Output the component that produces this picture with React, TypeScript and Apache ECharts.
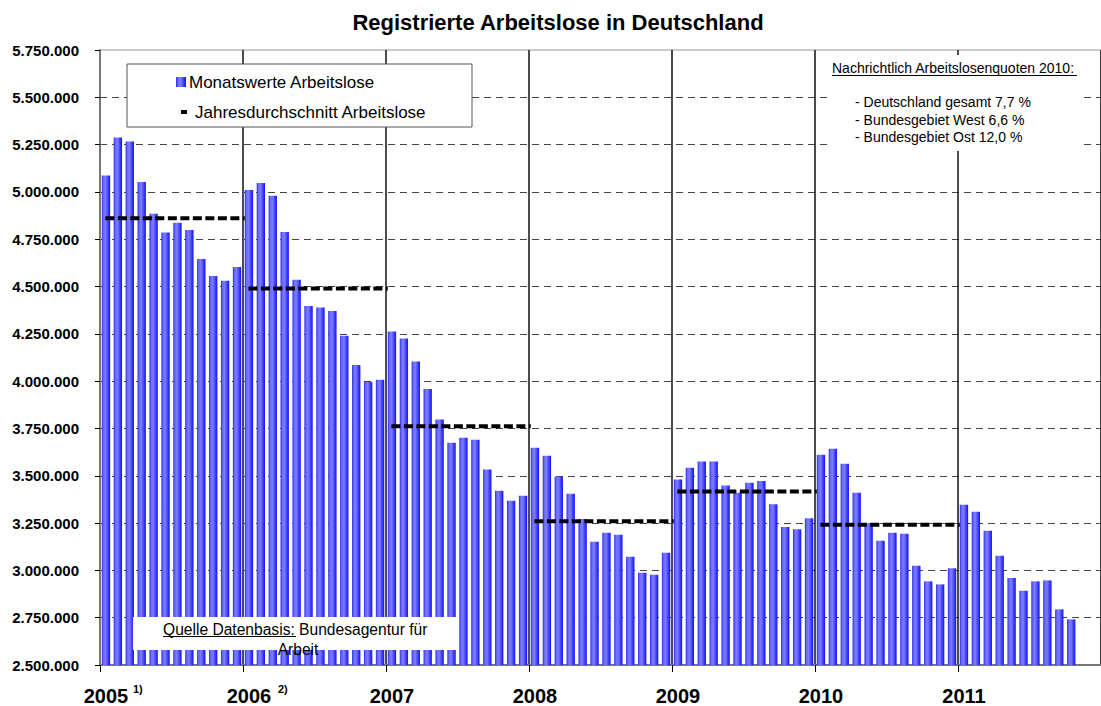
import React, { useEffect, useRef } from 'react';
import * as echarts from 'echarts';

const YEARS = ['2005', '2006', '2007', '2008', '2009', '2010', '2011'];
const MONTHS = ['Jan', 'Feb', 'Mär', 'Apr', 'Mai', 'Jun', 'Jul', 'Aug', 'Sep', 'Okt', 'Nov', 'Dez'];
const CATEGORIES = YEARS.flatMap((y) => MONTHS.map((m) => `${m} ${y}`));

const V2005 = [5087000, 5288000, 5266000, 5052000, 4884000, 4785000, 4837000, 4799000, 4646000, 4556000, 4531000, 4603000];
const V2006 = [5010000, 5047000, 4980000, 4788000, 4536000, 4397000, 4389000, 4371000, 4240000, 4086000, 3996000, 4007000];
const V2007 = [4262000, 4225000, 4104000, 3959000, 3798000, 3674000, 3701000, 3690000, 3533000, 3421000, 3368000, 3395000];
const V2008 = [3648000, 3606000, 3495000, 3405000, 3271000, 3151000, 3199000, 3188000, 3072000, 2988000, 2977000, 3093000];
const V2009 = [3480000, 3543000, 3575000, 3575000, 3448000, 3410000, 3463000, 3473000, 3350000, 3229000, 3218000, 3276000];
const V2010 = [3611000, 3643000, 3564000, 3410000, 3246000, 3157000, 3199000, 3194000, 3025000, 2942000, 2926000, 3011000];
const V2011 = [3347000, 3310000, 3210000, 3077000, 2960000, 2892000, 2942000, 2947000, 2794000, 2741000];
const MONTHLY = [...V2005, ...V2006, ...V2007, ...V2008, ...V2009, ...V2010, ...V2011];

// Jahresdurchschnitt 2005 .. 2010
const ANNUAL_AVG = [4861000, 4490000, 3762000, 3260000, 3417000, 3241000];

const Y_MIN = 2500000;
const Y_MAX = 5750000;
const Y_STEP = 250000;

const TITLE = 'Registrierte Arbeitslose in Deutschland';
const LEGEND_BARS = 'Monatswerte Arbeitslose';
const LEGEND_AVG = 'Jahresdurchschnitt Arbeitslose';
const NOTE_HEAD = 'Nachrichtlich Arbeitslosenquoten 2010:';
const NOTE_LINES = ['- Deutschland gesamt 7,7 %', '- Bundesgebiet West 6,6 %', '- Bundesgebiet Ost 12,0 %'];
const FONT = 'Arial, "Liberation Sans", sans-serif';

function fmt(v: number): string {
  return String(Math.round(v)).replace(/\B(?=(\d{3})+(?!\d))/g, '.');
}

const barGradient = () =>
  new echarts.graphic.LinearGradient(0, 0, 1, 0, [
    { offset: 0, color: '#2424ff' },
    { offset: 0.2, color: '#6a6aff' },
    { offset: 0.45, color: '#7c7cff' },
    { offset: 1, color: '#1010f5' },
  ]);

export default function App() {
  const ref = useRef<HTMLDivElement>(null);

  useEffect(() => {
    if (!ref.current) return;
    const chart = echarts.init(ref.current, undefined, { renderer: 'svg' });

    const avgData: any[] = [];
    ANNUAL_AVG.forEach((v, i) => {
      avgData.push([i * 12 + 0.45, v]);
      avgData.push([i * 12 + 12.15, v]);
      avgData.push([i * 12 + 12.3, '-']);
    });

    const isYearStart = (i: number) => i % 12 === 0;

    chart.setOption({
      animation: false,
      backgroundColor: '#fff',
      textStyle: { fontFamily: FONT },
      title: {
        text: TITLE,
        left: 553,
        top: 6,
        textAlign: 'center',
        textStyle: { fontSize: 22, fontWeight: 'bold', color: '#000', fontFamily: FONT },
      },
      grid: {
        left: 100,
        top: 50,
        width: 1003,
        height: 616,
        show: true,
        borderColor: '#999',
        borderWidth: 1,
        backgroundColor: 'transparent',
      },
      xAxis: [
        {
          type: 'category',
          data: CATEGORIES,
          boundaryGap: true,
          axisLine: { show: true, lineStyle: { color: '#777', width: 2 } },
          axisTick: {
            show: true,
            interval: (i: number) => isYearStart(i),
            length: 7,
            lineStyle: { color: '#000', width: 1 },
          },
          axisLabel: {
            interval: (i: number) => isYearStart(i),
            formatter: (v: string) => v.split(' ')[1],
            fontSize: 20,
            fontWeight: 'bold',
            color: '#000',
            margin: 21,
            fontFamily: FONT,
          },
          splitLine: {
            show: true,
            interval: (i: number) => isYearStart(i) && i > 0,
            lineStyle: { color: '#111', width: 1.5, type: 'solid' },
          },
        },
        {
          type: 'value',
          min: 0,
          max: 84,
          show: false,
          splitLine: { show: false },
        },
      ],
      yAxis: {
        type: 'value',
        min: Y_MIN,
        max: Y_MAX,
        interval: Y_STEP,
        axisLine: { show: true, lineStyle: { color: '#777', width: 2 } },
        axisTick: { show: true, length: 5, lineStyle: { color: '#000' } },
        axisLabel: {
          formatter: (v: number) => fmt(v),
          fontSize: 15,
          fontWeight: 'bold',
          color: '#000',
          margin: 21,
          fontFamily: FONT,
        },
        splitLine: {
          show: true,
          showMinLine: false,
          showMaxLine: false,
          lineStyle: { type: [7, 5], color: '#444', width: 1 },
        },
      },
      series: [
        {
          name: LEGEND_BARS,
          type: 'bar',
          xAxisIndex: 0,
          yAxisIndex: 0,
          data: MONTHLY,
          barWidth: '70%',
          itemStyle: { color: barGradient() },
          z: 2,
        },
        {
          name: LEGEND_AVG,
          type: 'line',
          xAxisIndex: 1,
          yAxisIndex: 0,
          data: avgData,
          symbol: 'none',
          connectNulls: false,
          lineStyle: { color: '#000', width: 4, type: [9, 3.5] },
          z: 5,
        },
      ],
      graphic: [
        // legend box
        { type: 'rect', z: 100, shape: { x: 127, y: 64, width: 345, height: 63 }, style: { fill: '#fff', stroke: '#555', lineWidth: 1 } },
        { type: 'rect', z: 101, shape: { x: 176, y: 77, width: 10, height: 10 }, style: { fill: barGradient() } },
        { type: 'text', z: 101, x: 189, y: 82, style: { text: LEGEND_BARS, font: `17px ${FONT}`, fill: '#000', verticalAlign: 'middle', align: 'left' } },
        { type: 'rect', z: 101, shape: { x: 181, y: 110, width: 6, height: 4 }, style: { fill: '#000' } },
        { type: 'text', z: 101, x: 195, y: 112, style: { text: LEGEND_AVG, font: `17px ${FONT}`, fill: '#000', verticalAlign: 'middle', align: 'left' } },
        // note box
        { type: 'rect', z: 100, shape: { x: 830, y: 55, width: 253, height: 96 }, style: { fill: '#fff' } },
        { type: 'text', z: 101, x: 832, y: 67.5, style: { text: NOTE_HEAD, font: `14px ${FONT}`, fill: '#000', verticalAlign: 'middle', align: 'left' } },
        { type: 'line', z: 101, shape: { x1: 832, y1: 75.5, x2: 1077, y2: 75.5 }, style: { stroke: '#000', lineWidth: 1 } },
        ...NOTE_LINES.map((t, i) => ({
          type: 'text',
          z: 101,
          x: 855,
          y: 102 + i * 17.5,
          style: { text: t, font: `14px ${FONT}`, fill: '#000', verticalAlign: 'middle', align: 'left' },
        })),
        // source box
        { type: 'rect', z: 100, shape: { x: 133, y: 617, width: 325, height: 33 }, style: { fill: '#fff' } },
        { type: 'text', z: 101, x: 163, y: 629, style: { text: 'Quelle Datenbasis: Bundesagentur für', font: `15.6px ${FONT}`, fill: '#000', verticalAlign: 'middle', align: 'left' } },
        { type: 'line', z: 101, shape: { x1: 163, y1: 636.5, x2: 296, y2: 636.5 }, style: { stroke: '#000', lineWidth: 1 } },
        { type: 'text', z: 101, x: 298, y: 649, style: { text: 'Arbeit', font: `15.6px ${FONT}`, fill: '#000', verticalAlign: 'middle', align: 'center' } },
        // footnote marks
        { type: 'text', z: 101, x: 133, y: 689, style: { text: '1)', font: `bold 11px ${FONT}`, fill: '#000', verticalAlign: 'middle', align: 'left' } },
        { type: 'text', z: 101, x: 278, y: 689, style: { text: '2)', font: `bold 11px ${FONT}`, fill: '#000', verticalAlign: 'middle', align: 'left' } },
      ],
    });

    return () => {
      chart.dispose();
    };
  }, []);

  return (
    <div
      ref={ref}
      style={{ position: 'fixed', left: 0, top: 0, width: 1101, height: 706, background: '#fff' }}
    />
  );
}
